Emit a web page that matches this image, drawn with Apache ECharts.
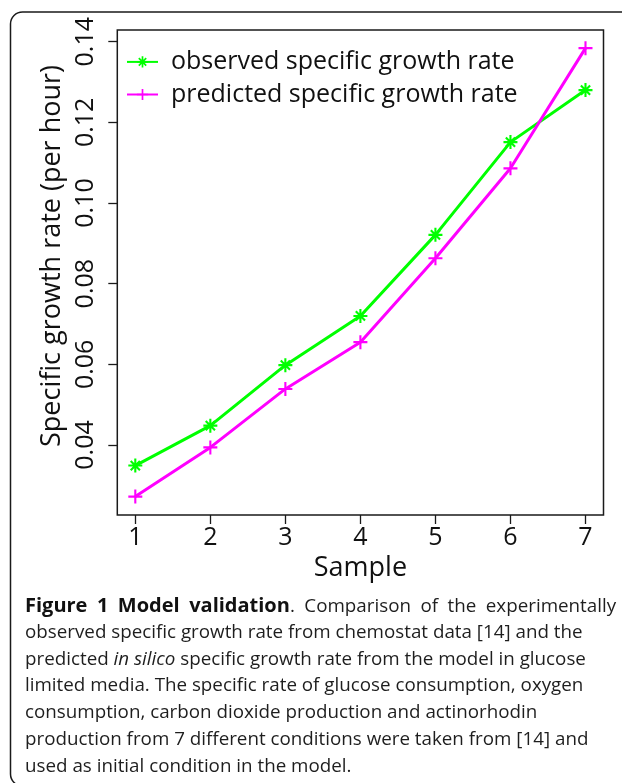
<!DOCTYPE html>
<html><head><meta charset="utf-8">
<script src="https://cdn.jsdelivr.net/npm/echarts@6/dist/echarts.min.js"></script>
<style>html,body{margin:0;padding:0;background:#fff}#c{width:622px;height:783px}</style>
</head><body><div id="c"></div>
<script>
const samples = [1, 2, 3, 4, 5, 6, 7];
const observed = [0.0349, 0.0448, 0.0598, 0.0720, 0.0921, 0.1151, 0.1280];
const predicted = [0.0272, 0.0394, 0.0539, 0.0655, 0.0863, 0.1086, 0.1384];
const xTicks = [1, 2, 3, 4, 5, 6, 7];
const yTicks = [0.04, 0.06, 0.08, 0.10, 0.12, 0.14];
const seriesNames = ['observed specific growth rate', 'predicted specific growth rate'];
const xTitle = 'Sample';
const yTitle = 'Specific growth rate (per hour)';
const captionLines = [
  '{b|Figure}{sb| }{b|1}{sb| }{b|Model}{sb| }{b|validation}.{s| }Comparison{s| }of{s| }the{s| }experimentally',
  'observed specific growth rate from chemostat data [14] and the',
  'predicted {i|in silico} specific growth rate from the model in glucose',
  'limited media. The specific rate of glucose consumption, oxygen',
  'consumption, carbon dioxide production and actinorhodin',
  'production from 7 different conditions were taken from [14] and',
  'used as initial condition in the model.'
];

const FONT = 'Open Sans';
const CAP = 18.8;
const plusPath = 'path://M5.1,0 H6.9 V5.1 H12 V6.9 H6.9 V12 H5.1 V6.9 H0 V5.1 H5.1 Z';
const starPath = 'path://M5.1,0 H6.9 V5.1 H12 V6.9 H6.9 V12 H5.1 V6.9 H0 V5.1 H5.1 Z ' +
  'M1.4,2.7 L2.7,1.4 L10.6,9.3 L9.3,10.6 Z M9.3,1.4 L10.6,2.7 L2.7,10.6 L1.4,9.3 Z';

const chart = echarts.init(document.getElementById('c'), null, {renderer: 'canvas'});

const captionGraphics = captionLines.map((t, k) => ({
  type: 'text', left: 25, top: 596.5 + k * 26.7, silent: true,
  style: {
    text: t, fontFamily: FONT, fontSize: CAP, fill: '#1e1e1e',
    rich: {
      b: {fontWeight: 'bold', fontFamily: FONT, fontSize: 20, fill: '#111'},
      sb: {fontWeight: 'bold', fontFamily: FONT, fontSize: 20, width: 9.5},
      s: {fontFamily: FONT, fontSize: CAP, width: 9.5},
      i: {fontStyle: 'italic', fontFamily: FONT, fontSize: CAP, fill: '#1e1e1e'}
    }
  }
}));

chart.setOption({
  animation: false,
  backgroundColor: '#fff',
  textStyle: {fontFamily: FONT},
  grid: {left: 117.3, top: 30, width: 486.2, height: 485, show: true,
    borderColor: '#1a1a1a', borderWidth: 1.5, backgroundColor: 'transparent'},
  legend: {
    orient: 'vertical', left: 121, top: 44.4, itemWidth: 31, itemHeight: 14, itemGap: 7.6,
    selectedMode: false,
    textStyle: {fontSize: 25, fontFamily: FONT, color: '#111', padding: [0, 0, 0, 8]},
    data: seriesNames
  },
  xAxis: {
    type: 'value', min: 0.76, max: 7.24,
    name: xTitle, nameLocation: 'middle', nameGap: 36,
    nameTextStyle: {fontSize: 27, fontFamily: FONT, color: '#111'},
    axisLine: {show: false, onZero: false},
    axisTick: {show: true, customValues: xTicks, length: 9, lineStyle: {color: '#1a1a1a', width: 1.3}},
    axisLabel: {customValues: xTicks, fontSize: 25, color: '#111', margin: 10, fontFamily: FONT},
    splitLine: {show: false}
  },
  yAxis: {
    type: 'value', min: 0.02264, max: 0.1429,
    name: yTitle, nameLocation: 'middle', nameGap: 48,
    nameTextStyle: {fontSize: 27, fontFamily: FONT, color: '#111', padding: [0, 0, 0, 33]},
    axisLine: {show: false, onZero: false},
    axisTick: {show: true, customValues: yTicks, length: 9, lineStyle: {color: '#1a1a1a', width: 1.3}},
    axisLabel: {customValues: yTicks, rotate: 90, fontSize: 25, color: '#111', margin: 19, fontFamily: FONT,
      formatter: v => v.toFixed(2)},
    splitLine: {show: false}
  },
  series: [
    {name: seriesNames[0], type: 'line', data: samples.map((s, i) => [s, observed[i]]),
      symbol: starPath, symbolSize: 14, color: '#00ff00',
      lineStyle: {width: 3, color: '#00ff00'}, itemStyle: {color: '#00ff00'}},
    {name: seriesNames[1], type: 'line', data: samples.map((s, i) => [s, predicted[i]]),
      symbol: plusPath, symbolSize: 14, color: '#ff00ff',
      lineStyle: {width: 3, color: '#ff00ff'}, itemStyle: {color: '#ff00ff'}}
  ],
  graphic: [
    {type: 'rect', silent: true, shape: {x: 10.5, y: 12, width: 640, height: 774, r: 12},
      style: {fill: null, stroke: '#1a1a1a', lineWidth: 1.5}},
    ...captionGraphics
  ]
});
</script></body></html>
